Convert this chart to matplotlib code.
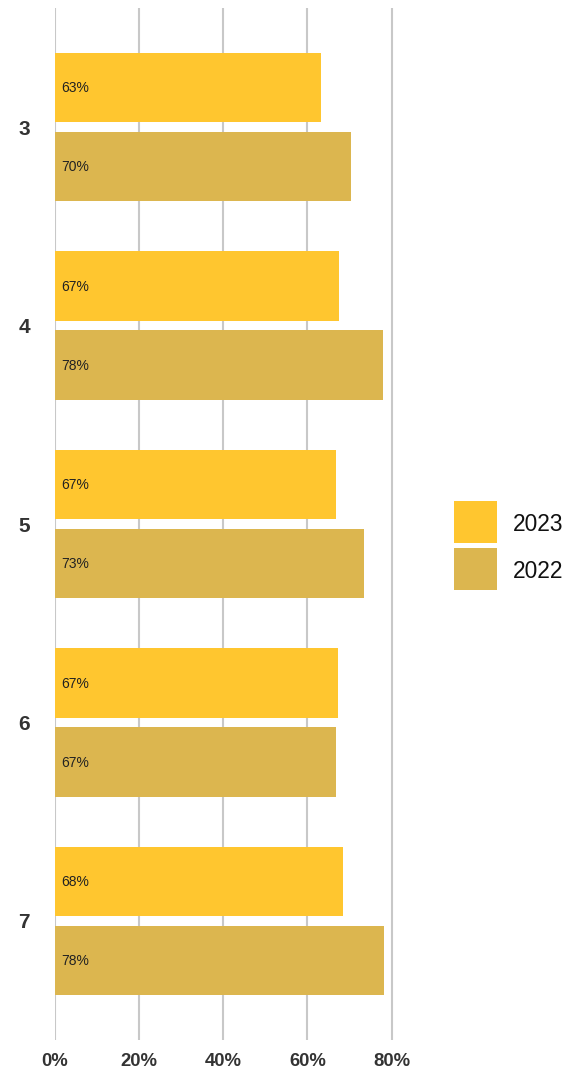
"""Barras horizontales agrupadas: porcentaje por grado, 2023 vs 2022."""

import matplotlib

matplotlib.use("Agg")
import matplotlib.pyplot as plt
from matplotlib.patches import Rectangle
import numpy as np

plt.rcParams["font.family"] = ["Liberation Sans", "DejaVu Sans"]

# datos
grades = ["3", "4", "5", "6", "7"]
pct_2023 = [63.2, 67.4, 66.8, 67.3, 68.4]
pct_2022 = [70.3, 78.0, 73.4, 66.8, 78.2]
series_names = ["2023", "2022"]
xticks = [0, 20, 40, 60, 80]

COL_2023 = "#FFC62F"
COL_2022 = "#DCB64F"

W, H = 576, 1069
fig = plt.figure(figsize=(W / 100, H / 100), dpi=100)
ax = fig.add_axes([54.7 / W, 1 - 1040 / H, (408.4 - 54.7) / W, (1040 - 8) / H])

y = np.arange(len(grades))
bar_h = 0.35
off = 0.199
b1 = ax.barh(y - off, pct_2023, height=bar_h, color=COL_2023, label=series_names[0])
b2 = ax.barh(y + off, pct_2022, height=bar_h, color=COL_2022, label=series_names[1])

for bars, vals in ((b1, pct_2023), (b2, pct_2022)):
    for rect, v in zip(bars, vals):
        ax.annotate(f"{round(v)}%", xy=(0, rect.get_y() + rect.get_height() / 2),
                    xytext=(4.5, -0.5), textcoords="offset points",
                    ha="left", va="center", fontsize=10, color="#222222")

ax.set_xlim(0, 84)
ax.set_ylim(4.6, -0.6)
ax.set_xticks(xticks)
ax.set_xticklabels([f"{t}%" for t in xticks])
ax.set_yticks(y)
ax.set_yticklabels(grades)
ax.tick_params(axis="x", length=0, pad=9, labelsize=13.3, labelcolor="#333333")
ax.tick_params(axis="y", length=0, pad=17.8, labelsize=15, labelcolor="#333333")
for lab in ax.get_xticklabels() + ax.get_yticklabels():
    lab.set_fontweight("bold")

ax.xaxis.grid(True, color="#C8C8C8", lw=1.5)
ax.set_axisbelow(True)
for s in ax.spines.values():
    s.set_visible(False)

# leyenda a mano: cuadrados de ~43x42 px con 5 px de separacion
sq_w, sq_h, step = 43, 42, 47.3
x0, top0 = 454, 500.7
for i, (name, col) in enumerate(zip(series_names, [COL_2023, COL_2022])):
    top = top0 + i * step
    fig.add_artist(Rectangle((x0 / W, 1 - (top + sq_h) / H), sq_w / W, sq_h / H,
                             transform=fig.transFigure, color=col, lw=0))
    fig.text(513 / W, 1 - (top + sq_h / 2 + 3) / H, name, fontsize=16.4,
             ha="left", va="center", color="#111111")

fig.savefig("out.png", dpi=100)
plt.close(fig)
